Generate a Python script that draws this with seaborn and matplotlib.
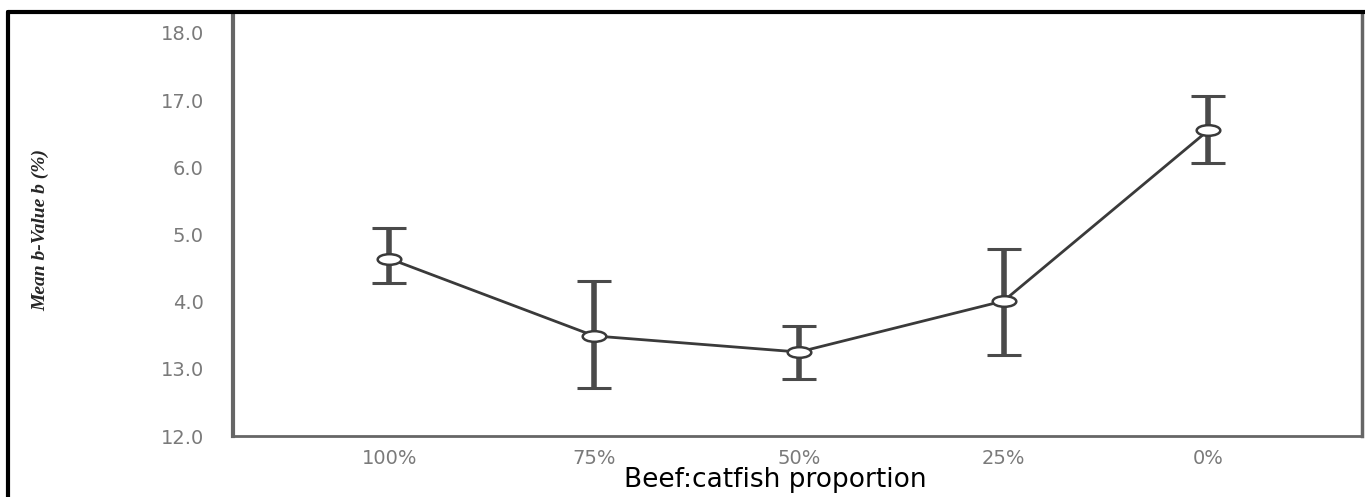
import numpy as np
import matplotlib
matplotlib.use("Agg")
import matplotlib.pyplot as plt
import seaborn as sns
from matplotlib.path import Path
from matplotlib.transforms import Affine2D
from matplotlib.lines import Line2D

# values
proportions = ["100%", "75%", "50%", "25%", "0%"]
mean_b = [14.64, 13.49, 13.25, 14.01, 16.55]
err_low = [14.27, 12.72, 12.85, 13.21, 16.07]
err_high = [15.09, 14.30, 13.64, 14.79, 17.06]
y_ticks = [12, 13, 14, 15, 16, 17, 18]
y_tick_labels = ["12.0", "13.0", "4.0", "5.0", "6.0", "17.0", "18.0"]

sns.set_style("white")
plt.rcParams["font.family"] = ["DejaVu Sans"]

fig = plt.figure(figsize=(13.65, 4.97), dpi=100)
ax = fig.add_axes([0.1707, 0.1227, 0.8271, 0.8491])

x = np.arange(len(proportions))
mean_arr = np.array(mean_b)
yerr = [mean_arr - np.array(err_low), np.array(err_high) - mean_arr]

# error bars behind the line
ax.errorbar(x, mean_b, yerr=yerr, fmt="none", ecolor="#4a4a4a",
            elinewidth=4, capsize=12, capthick=2.2, zorder=2)

# flat ellipse marker like the SPSS output
ellipse = Path.unit_circle().transformed(Affine2D().scale(1.0, 0.45))
sns.lineplot(x=x, y=mean_b, ax=ax, color="#3a3a3a", linewidth=2,
             marker=ellipse, markersize=17, markerfacecolor="white",
             markeredgecolor="#3a3a3a", markeredgewidth=1.8, zorder=3)

ax.set_xlim(-0.763, 4.75)
ax.set_ylim(12.0, 18.28)
ax.set_xticks(x)
ax.set_xticklabels(proportions)
ax.set_yticks(y_ticks)
ax.set_yticklabels(y_tick_labels)

ax.tick_params(axis="both", direction="out", width=2,
               color="#555555", labelcolor="#7a7a7a", labelsize=14)
ax.tick_params(axis="y", length=20, pad=1)
ax.tick_params(axis="x", length=7, pad=2)

for side in ["left", "bottom", "right"]:
    ax.spines[side].set_color("#666666")
ax.spines["left"].set_linewidth(3)
ax.spines["bottom"].set_linewidth(2)
ax.spines["right"].set_linewidth(2.5)
ax.spines["top"].set_visible(False)

ax.set_xlabel("")
ax.set_ylabel("")
fig.text(0.568, 0.008, "Beef:catfish proportion", ha="center", va="bottom",
         fontsize=19, color="black")
fig.text(0.03, 0.537, "Mean b-Value b (%)", rotation=90, ha="center", va="center",
         fontsize=14, fontstyle="italic", fontweight="bold",
         family=["Liberation Serif", "DejaVu Serif"])

# outer black frame of the original figure
fig.add_artist(Line2D([0.0059, 1.0], [0.975, 0.975], color="black", linewidth=3,
                      transform=fig.transFigure))
fig.add_artist(Line2D([0.0059, 0.0059], [0.0, 0.975], color="black", linewidth=3,
                      transform=fig.transFigure))

fig.savefig("out.png", dpi=100)
